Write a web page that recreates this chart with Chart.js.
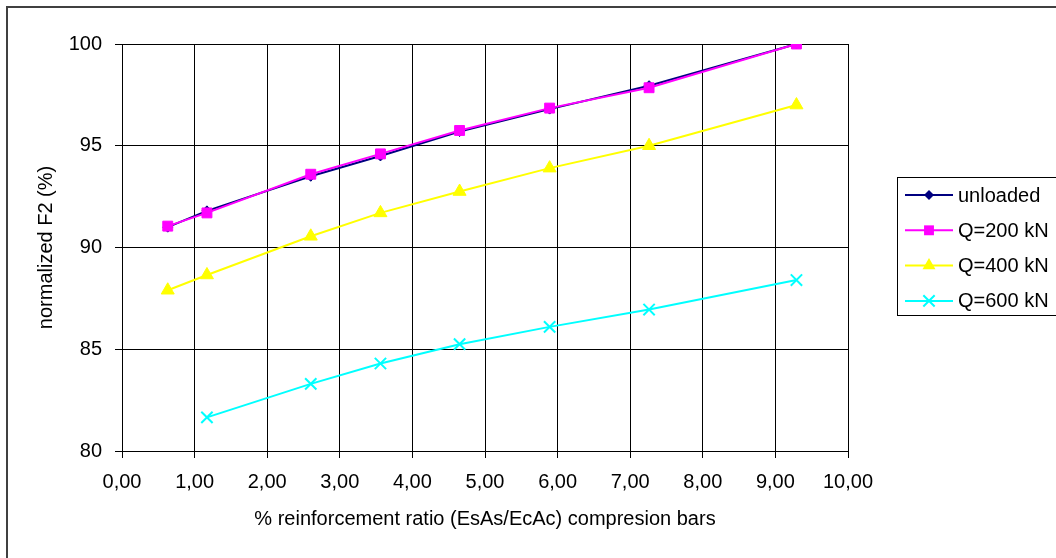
<!DOCTYPE html>
<html>
<head>
<meta charset="utf-8">
<script src="https://cdn.jsdelivr.net/npm/chart.js@4.4.1/dist/chart.umd.min.js"></script>
<style>
  html, body { margin: 0; padding: 0; background: #fff; overflow: hidden; }
  #wrap { width: 1056px; height: 558px; }
</style>
</head>
<body>
<div id="wrap"><canvas id="chart" width="1056" height="558"></canvas></div>
<script>
// Data
const ratio = [0.63, 1.17, 2.60, 3.56, 4.65, 5.89, 7.26, 9.29];
const unloaded = [91.0, 91.8, 93.5, 94.5, 95.7, 96.8, 97.95, 100.0];
const q200 = [91.05, 91.7, 93.6, 94.6, 95.75, 96.85, 97.85, 100.0];
const q400 = [87.9, 88.65, 90.55, 91.7, 92.75, 93.9, 95.0, 97.0];
const q600 = [null, 81.65, 83.3, 84.3, 85.25, 86.1, 86.95, 88.4];

const seriesNames = ['unloaded', 'Q=200 kN', 'Q=400 kN', 'Q=600 kN'];
const seriesColors = ['#000080', '#FF00FF', '#FFFF00', '#00FFFF'];
const seriesPoints = ['rectRot', 'rect', 'triangle', 'crossRot'];
const seriesRadius = [5, 7, 7.5, 8];

const xTicks = [0, 10, 1];   // min, max, step
const yTicks = [80, 100, 5];

const FONT = 'Liberation Sans, Arial, sans-serif';

function toPoints(ys) {
    return ratio.map((x, i) => ({ x: x, y: ys[i] })).filter(p => p.y !== null);
}

const allSeries = [unloaded, q200, q400, q600];
const datasets = allSeries.map((ys, i) => ({
    label: seriesNames[i],
    data: toPoints(ys),
    showLine: true,
    borderColor: seriesColors[i],
    backgroundColor: seriesColors[i],
    borderWidth: 2,
    pointStyle: seriesPoints[i],
    pointRadius: seriesRadius[i],
    pointBorderWidth: seriesPoints[i] === 'crossRot' ? 2 : 1,
    pointBorderColor: seriesColors[i],
    pointBackgroundColor: seriesColors[i],
    tension: 0,
    order: allSeries.length - i
}));

// Outer frame
const framePlugin = {
    id: 'frame',
    beforeDraw(chart) {
        const ctx = chart.ctx;
        ctx.save();
        ctx.fillStyle = '#fff';
        ctx.fillRect(0, 0, chart.width, chart.height);
        ctx.strokeStyle = '#404040';
        ctx.lineWidth = 2;
        ctx.strokeRect(7, 7, 1200, 1200);
        ctx.restore();
    }
};

function drawMarker(ctx, style, x, y, r, color) {
    ctx.fillStyle = color;
    ctx.strokeStyle = color;
    ctx.beginPath();
    if (style === 'rectRot') {
        ctx.moveTo(x, y - r); ctx.lineTo(x + r, y); ctx.lineTo(x, y + r); ctx.lineTo(x - r, y);
        ctx.closePath(); ctx.fill();
    } else if (style === 'rect') {
        const s = r * Math.SQRT1_2;
        ctx.rect(x - s, y - s, 2 * s, 2 * s); ctx.fill();
    } else if (style === 'triangle') {
        const h = r * 0.866;
        ctx.moveTo(x, y - r); ctx.lineTo(x + h, y + r / 2); ctx.lineTo(x - h, y + r / 2);
        ctx.closePath(); ctx.fill();
    } else {
        const s = r * Math.SQRT1_2;
        ctx.lineWidth = 2;
        ctx.moveTo(x - s, y - s); ctx.lineTo(x + s, y + s);
        ctx.moveTo(x + s, y - s); ctx.lineTo(x - s, y + s);
        ctx.stroke();
    }
}

// Legend box drawn by hand so it can sit where the reference has it
const legendPlugin = {
    id: 'sideLegend',
    afterDraw(chart) {
        const ctx = chart.ctx;
        ctx.save();
        ctx.strokeStyle = '#000';
        ctx.lineWidth = 1;
        ctx.strokeRect(897.5, 177.5, 300, 138);
        ctx.font = '20px ' + FONT;
        ctx.textBaseline = 'middle';
        ctx.textAlign = 'left';
        chart.data.datasets.forEach((ds, i) => {
            const y = 195 + i * 35.3;
            ctx.strokeStyle = ds.borderColor;
            ctx.lineWidth = 2;
            ctx.beginPath();
            ctx.moveTo(905, y); ctx.lineTo(953, y);
            ctx.stroke();
            drawMarker(ctx, ds.pointStyle, 929, y, ds.pointRadius, ds.borderColor);
            ctx.fillStyle = '#000';
            ctx.fillText(ds.label, 958, y + 1);
        });
        ctx.restore();
    }
};

new Chart(document.getElementById('chart'), {
    type: 'scatter',
    data: { datasets: datasets },
    options: {
        responsive: false,
        animation: false,
        layout: { padding: { left: 0, top: 44, right: 208, bottom: 0 } },
        plugins: { legend: { display: false }, tooltip: { enabled: false } },
        scales: {
            x: {
                type: 'linear',
                min: xTicks[0], max: xTicks[1],
                afterFit: s => { s.height = 107; },
                ticks: {
                    stepSize: xTicks[2], color: '#000', padding: 12,
                    font: { family: FONT, size: 20 },
                    callback: v => v.toFixed(2).replace('.', ','),
                    maxRotation: 0
                },
                grid: { color: '#000', lineWidth: 1, tickLength: 7, tickColor: '#000' },
                border: { color: '#000', width: 1 },
                title: {
                    display: true, text: '% reinforcement ratio (EsAs/EcAc) compresion bars',
                    color: '#000', font: { family: FONT, size: 20 },
                    padding: { top: 0, bottom: 27 }
                }
            },
            y: {
                type: 'linear',
                min: yTicks[0], max: yTicks[1],
                afterFit: s => { s.width = 122; },
                ticks: {
                    stepSize: yTicks[2], color: '#000', padding: 13,
                    font: { family: FONT, size: 20 }
                },
                grid: { color: '#000', lineWidth: 1, tickLength: 7, tickColor: '#000' },
                border: { color: '#000', width: 1 },
                title: {
                    display: true, text: 'normalized F2 (%)',
                    color: '#000', font: { family: FONT, size: 20 },
                    padding: { top: 34, bottom: 0 }
                }
            }
        }
    },
    plugins: [framePlugin, legendPlugin]
});
</script>
</body>
</html>
